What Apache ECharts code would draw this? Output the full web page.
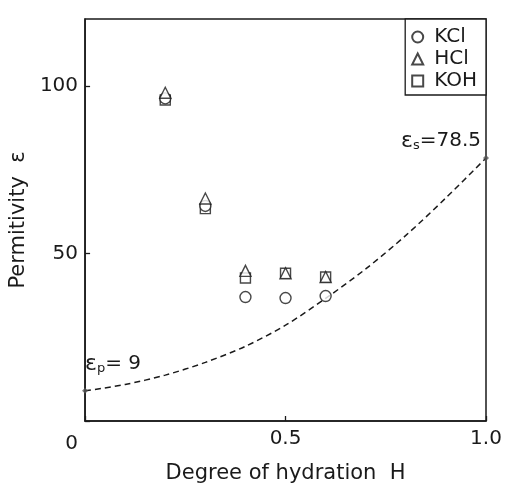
<!DOCTYPE html>
<html>
<head>
<meta charset="utf-8">
<script src="https://cdn.jsdelivr.net/npm/echarts@6/dist/echarts.min.js"></script>
<style>html,body{margin:0;padding:0;background:#fff;}#c{width:511px;height:489px;}</style>
</head>
<body>
<div id="c"></div>
<script>
// Degree of hydration H for the measured points
const hydration = [0.2, 0.3, 0.4, 0.5, 0.6];
const kclValues = [96.3, 64.2, 37.0, 36.7, 37.3];
const hclValues = [98.0, 66.4, 44.8, 44.1, 43.0];
const kohValues = [95.8, 63.4, 42.7, 44.1, 43.0];
// dashed theoretical curve
const curveH = [0, 0.1, 0.2, 0.3, 0.4, 0.5, 0.6, 0.7, 0.8, 0.9, 1.0];
const curveEps = [9, 10.9, 13.7, 17.5, 22.3, 28.6, 36.6, 45.4, 55.4, 66.6, 78.5];
const epsP = 9, epsS = 78.5;
const xTicks = ['0', '0.5', '1.0'];
const yTicks = ['0', '50', '100'];

const FONT = "'DejaVu Sans', sans-serif";
const INK = '#1a1a1a';
const pairs = (xs, ys) => xs.map((x, i) => [x, ys[i]]);
const hollow = {color: '#fff', borderColor: INK, borderWidth: 1.4};

const chart = echarts.init(document.getElementById('c'), null, {renderer: 'canvas'});
chart.setOption({
  backgroundColor: '#fff',
  animation: false,
  grid: {left: 82, right: 25, top: 19, bottom: 67, show: true, borderColor: INK, borderWidth: 1.5, backgroundColor: 'transparent'},
  legend: {
    orient: 'vertical', right: 25, top: 19,
    data: ['KCl', 'HCl', 'KOH'],
    itemWidth: 11, itemHeight: 11, itemGap: 2,
    padding: [8, 9, 4, 6],
    borderColor: INK, borderWidth: 1.3, backgroundColor: '#fff',
    textStyle: {fontFamily: FONT, fontSize: 20, color: INK, padding: [0, 0, 0, 6]}
  },
  xAxis: {
    type: 'value', min: 0, max: 1, interval: 0.5,
    name: 'Degree of hydration  H', nameLocation: 'middle', nameGap: 42,
    nameTextStyle: {fontFamily: FONT, fontSize: 21, color: INK},
    axisLine: {show: true, lineStyle: {color: INK, width: 1.5}},
    axisTick: {show: true, inside: true, length: 5, lineStyle: {color: INK, width: 1.3}},
    axisLabel: {fontFamily: FONT, fontSize: 20, color: INK, margin: 8,
      formatter: v => { const i = Math.round(v / 0.5); return i === 0 ? '' : xTicks[i]; }},
    splitLine: {show: false}
  },
  yAxis: {
    type: 'value', min: 0, max: 120, interval: 50,
    name: 'Permitivity  ε', nameLocation: 'middle', nameGap: 42, nameRotate: 90,
    nameTextStyle: {fontFamily: FONT, fontSize: 21, color: INK},
    axisLine: {show: true, lineStyle: {color: INK, width: 1.5}},
    axisTick: {show: true, inside: true, length: 5, lineStyle: {color: INK, width: 1.3}},
    axisLabel: {fontFamily: FONT, fontSize: 20, color: INK, margin: 7, showMaxLabel: false,
      formatter: v => { if (v > 100) return ''; const i = Math.round(v / 50); return i === 0 ? '{z|' + yTicks[0] + '}' : yTicks[i]; },
      rich: {z: {fontFamily: FONT, fontSize: 20, color: INK, padding: [46, 0, 0, 0]}}},
    splitLine: {show: false}
  },
  series: [
    {name: 'curve', type: 'line', data: pairs(curveH, curveEps), smooth: 0.3, symbol: 'none',
      lineStyle: {color: INK, width: 1.5, type: [6, 4]}, z: 2},
    {name: 'ends', type: 'scatter', symbol: 'diamond', symbolSize: 6,
      itemStyle: {color: '#555'}, z: 3,
      data: [
        {value: [0, epsP], label: {show: true, position: [3, -24], align: 'left', verticalAlign: 'middle',
          formatter: '{e|ε}{s|p}= ' + epsP}},
        {value: [1, epsS], label: {show: true, position: [-2, -14], align: 'right', verticalAlign: 'middle',
          formatter: '{e|ε}{s|s}=' + epsS}}
      ],
      label: {fontFamily: FONT, fontSize: 20, color: INK, opacity: 1,
        rich: {e: {fontFamily: FONT, fontSize: 22, color: INK}, s: {fontFamily: FONT, fontSize: 13, color: INK, padding: [10, 0, 0, 0]}}}
    },
    {name: 'KCl', type: 'scatter', symbol: 'circle', symbolSize: 11, data: pairs(hydration, kclValues), itemStyle: hollow, z: 4},
    {name: 'HCl', type: 'scatter', symbol: 'triangle', symbolSize: 11, data: pairs(hydration, hclValues), itemStyle: hollow, z: 5},
    {name: 'KOH', type: 'scatter', symbol: 'rect', symbolSize: 10, data: pairs(hydration, kohValues), itemStyle: hollow, z: 3}
  ]
});
</script>
</body>
</html>
